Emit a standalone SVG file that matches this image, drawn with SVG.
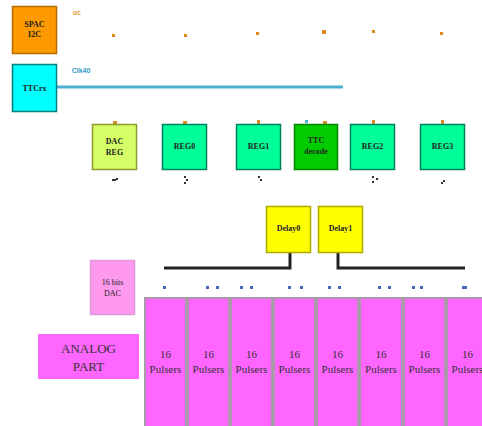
<svg xmlns="http://www.w3.org/2000/svg" width="482" height="426" viewBox="0 0 482 426">
<style>
text{font-family:"Liberation Serif","Times New Roman",serif;fill:#333;text-anchor:middle}
.s{font-size:8px;font-weight:bold;fill:#222}
.reg{fill:#00FF99;stroke:#008060;stroke-width:1.5}
.pul{fill:#FF66FF;stroke:#AA99AA;stroke-width:2}
.od{fill:#D98C1A}
.bd{fill:#4466BB}
.kd{fill:#333}
.bus{stroke:#222;stroke-width:3;fill:none}
</style>
<rect width="482" height="426" fill="#fff"/>
<g id="connectors">
<line x1="57" y1="87" x2="343" y2="87" stroke="#4AB0D0" stroke-width="3"/>
<path class="bus" d="M290 253V268H164"/>
<path class="bus" d="M338 253V268H465"/>
<rect class="od" x="112" y="34" width="3" height="3"/>
<rect class="od" x="184" y="34" width="3" height="3"/>
<rect class="od" x="256" y="32" width="3" height="3"/>
<rect class="od" x="322" y="30" width="4" height="4"/>
<rect class="od" x="372" y="30" width="3" height="3"/>
<rect class="od" x="440" y="32" width="3" height="3"/>
<rect class="od" x="113" y="121" width="4" height="3"/>
<rect class="od" x="183" y="121" width="4" height="3"/>
<rect class="od" x="257" y="120" width="3" height="4"/>
<rect fill="#4AB0D0" x="305" y="120" width="3" height="3"/>
<rect class="od" x="323" y="121" width="4" height="3"/>
<rect class="od" x="372" y="120" width="3" height="4"/>
<rect class="od" x="441" y="120" width="3" height="4"/>
<rect class="kd" x="112" y="179" width="4" height="2"/><rect class="kd" x="116" y="178" width="2" height="2"/>
<rect class="kd" x="184" y="176" width="2" height="2"/><rect class="kd" x="186" y="179" width="2" height="2"/><rect class="kd" x="184" y="182" width="2" height="2"/>
<rect class="kd" x="258" y="176" width="2" height="2"/><rect class="kd" x="260" y="179" width="2" height="2"/>
<rect class="kd" x="372" y="176" width="2" height="2"/><rect class="kd" x="376" y="178" width="2" height="2"/><rect class="kd" x="372" y="181" width="2" height="2"/>
<rect class="kd" x="443" y="180" width="2" height="2"/><rect class="kd" x="441" y="182" width="2" height="2"/>
<rect class="bd" x="163" y="286" width="3" height="3"/>
<rect class="bd" x="206" y="286" width="3" height="3"/>
<rect class="bd" x="216" y="286" width="3" height="3"/>
<rect class="bd" x="240" y="286" width="3" height="3"/>
<rect class="bd" x="250" y="286" width="3" height="3"/>
<rect class="bd" x="288" y="286" width="3" height="3"/>
<rect class="bd" x="300" y="286" width="3" height="3"/>
<rect class="bd" x="328" y="286" width="3" height="3"/>
<rect class="bd" x="338" y="286" width="3" height="3"/>
<rect class="bd" x="378" y="286" width="3" height="3"/>
<rect class="bd" x="388" y="286" width="3" height="3"/>
<rect class="bd" x="412" y="286" width="3" height="3"/>
<rect class="bd" x="420" y="286" width="3" height="3"/>
<rect class="bd" x="462" y="286" width="5" height="3"/>
<text x="77" y="15" style="font-size:5px;fill:#D98C1A;font-family:'Liberation Sans',sans-serif;font-weight:bold">I2C</text>
<text x="81" y="73" style="font-size:7px;fill:#3399CC;font-family:'Liberation Sans',sans-serif;font-weight:bold">Clk40</text>
</g>
<g id="spac"><rect x="12.5" y="6.5" width="44" height="47" fill="#FF9900" stroke="#B36B00" stroke-width="1.5"/><text class="s" x="34.5" y="27">SPAC</text><text class="s" x="34.5" y="37">I2C</text></g>
<g id="ttcrx"><rect x="12.5" y="64.5" width="44" height="47" fill="#00FFFF" stroke="#008080" stroke-width="1.5"/><text class="s" x="34.5" y="91">TTCrx</text></g>
<g id="dacreg"><rect x="92.5" y="124.5" width="44" height="45" fill="#D4FF66" stroke="#8A9A30" stroke-width="1.5"/><text class="s" x="114.5" y="144">DAC</text><text class="s" x="114.5" y="155">REG</text></g>
<g id="reg0"><rect class="reg" x="162.5" y="124.5" width="44" height="45"/><text class="s" x="184.5" y="149">REG0</text></g>
<g id="reg1"><rect class="reg" x="236.5" y="124.5" width="44" height="45"/><text class="s" x="258.5" y="149">REG1</text></g>
<g id="ttcdecode"><rect x="294.5" y="124.5" width="43" height="45" fill="#00CC00" stroke="#008800" stroke-width="1.5"/><text class="s" x="316" y="143">TTC</text><text class="s" x="316" y="154">decode</text></g>
<g id="reg2"><rect class="reg" x="350.5" y="124.5" width="44" height="45"/><text class="s" x="372.5" y="149">REG2</text></g>
<g id="reg3"><rect class="reg" x="420.5" y="124.5" width="44" height="45"/><text class="s" x="442.5" y="149">REG3</text></g>
<g id="delay0"><rect x="266.5" y="206.5" width="44" height="46" fill="#FFFF00" stroke="#AAAA00" stroke-width="1.5"/><text class="s" x="288.5" y="231">Delay0</text></g>
<g id="delay1"><rect x="318.5" y="206.5" width="44" height="46" fill="#FFFF00" stroke="#AAAA00" stroke-width="1.5"/><text class="s" x="340.5" y="231">Delay1</text></g>
<g id="dac16"><rect x="90.5" y="260.5" width="44" height="54" fill="#FF99EE" stroke="#DD99DD" stroke-width="1.5"/><text class="s" x="112.5" y="285" style="font-weight:normal">16 bits</text><text class="s" x="112.5" y="296" style="font-weight:normal">DAC</text></g>
<g id="analog"><rect x="38" y="334" width="101" height="45" fill="#FF66FF"/><text x="88.5" y="353" style="font-size:13px">ANALOG</text><text x="88.5" y="371" style="font-size:13px">PART</text></g>
<g id="p0"><rect class="pul" x="145" y="298" width="41" height="130"/><text x="165.5" y="358" style="font-size:11px">16</text><text x="165.5" y="373" style="font-size:11px">Pulsers</text></g>
<g id="p1"><rect class="pul" x="188" y="298" width="41" height="130"/><text x="208.5" y="358" style="font-size:11px">16</text><text x="208.5" y="373" style="font-size:11px">Pulsers</text></g>
<g id="p2"><rect class="pul" x="231" y="298" width="41" height="130"/><text x="251.5" y="358" style="font-size:11px">16</text><text x="251.5" y="373" style="font-size:11px">Pulsers</text></g>
<g id="p3"><rect class="pul" x="274" y="298" width="41" height="130"/><text x="294.5" y="358" style="font-size:11px">16</text><text x="294.5" y="373" style="font-size:11px">Pulsers</text></g>
<g id="p4"><rect class="pul" x="317" y="298" width="41" height="130"/><text x="337.5" y="358" style="font-size:11px">16</text><text x="337.5" y="373" style="font-size:11px">Pulsers</text></g>
<g id="p5"><rect class="pul" x="360" y="298" width="42" height="130"/><text x="381" y="358" style="font-size:11px">16</text><text x="381" y="373" style="font-size:11px">Pulsers</text></g>
<g id="p6"><rect class="pul" x="404" y="298" width="41" height="130"/><text x="424.5" y="358" style="font-size:11px">16</text><text x="424.5" y="373" style="font-size:11px">Pulsers</text></g>
<g id="p7"><rect class="pul" x="447" y="298" width="41" height="130"/><text x="467.5" y="358" style="font-size:11px">16</text><text x="467.5" y="373" style="font-size:11px">Pulsers</text></g>
</svg>
